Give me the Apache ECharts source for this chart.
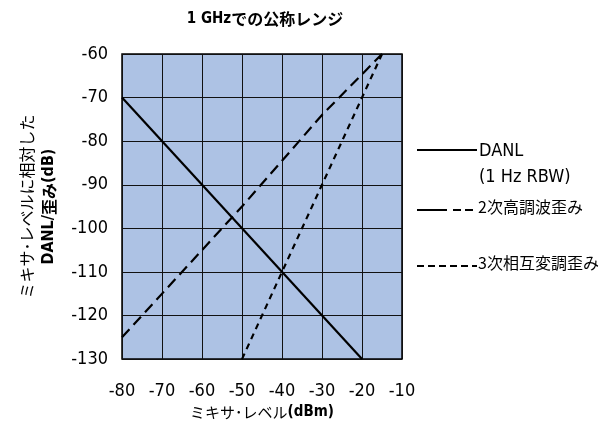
<!DOCTYPE html>
<html>
<head>
<meta charset="utf-8">
<script src="https://cdn.jsdelivr.net/npm/echarts@6/dist/echarts.min.js"></script>
<style>
html, body { margin: 0; padding: 0; background: #fff; }
#main { width: 607px; height: 425px; }
</style>
</head>
<body>
<div id="main"></div>
<script>
"use strict";
// ミキサ・レベル (dBm) と各特性 (dB)
var danl = [[-80, -70], [-20, -130]];
var harm2 = [[-80, -125], [-50, -95], [-30, -74], [-15, -60]];
var toi3 = [[-50, -130], [-40, -110], [-30, -90], [-15, -60]];
var seriesNames = ['DANL', '2次高調波歪み', '3次相互変調歪み'];

var numFont = '"Liberation Sans Narrow", "DejaVu Sans Condensed", sans-serif';
var jpFont = '"Noto Sans CJK JP", sans-serif';

var myChart = echarts.init(document.getElementById('main'));

var option = {
    backgroundColor: '#ffffff',
    animation: false,
    title: {
        text: '{b|1 GHz}{j|での公称レンジ}',
        left: 260,
        top: 6,
        textAlign: 'center',
        textStyle: {
            rich: {
                b: {fontFamily: numFont, fontWeight: 'bold', fontSize: 15, color: '#000'},
                j: {fontFamily: jpFont, fontWeight: 'bold', fontSize: 16, color: '#000'}
            }
        }
    },
    grid: {
        left: 122, right: 205, top: 54, bottom: 62,
        show: true,
        backgroundColor: '#adc2e4',
        borderColor: '#000',
        borderWidth: 1.5
    },
    xAxis: {
        type: 'value',
        min: -80, max: -10, interval: 10,
        axisLine: {show: false},
        axisTick: {show: false},
        splitLine: {lineStyle: {color: '#111', width: 1}},
        axisLabel: {fontFamily: numFont, fontSize: 18, color: '#000', margin: 23},
        name: '{a|ミキサ･レベル}{b|(dBm)}',
        nameLocation: 'middle',
        nameGap: 39,
        nameTextStyle: {
            rich: {
                a: {fontFamily: jpFont, fontSize: 15, color: '#000'},
                b: {fontFamily: numFont, fontWeight: 'bold', fontSize: 15, color: '#000'}
            }
        }
    },
    yAxis: {
        type: 'value',
        min: -130, max: -60, interval: 10,
        axisLine: {show: false},
        axisTick: {show: false},
        splitLine: {lineStyle: {color: '#111', width: 1}},
        axisLabel: {fontFamily: numFont, fontSize: 18, color: '#000', margin: 14},
        name: '{a|ミキサ･レベルに相対した}\n{b|DANL/}{c|歪み}{b|(dB)}',
        nameLocation: 'middle',
        nameRotate: 90,
        nameGap: 62,
        nameTextStyle: {
            lineHeight: 22,
            rich: {
                a: {fontFamily: jpFont, fontSize: 16, color: '#000', lineHeight: 22},
                b: {fontFamily: numFont, fontWeight: 'bold', fontSize: 16, color: '#000', lineHeight: 22},
                c: {fontFamily: jpFont, fontWeight: 'bold', fontSize: 16, color: '#000', lineHeight: 22}
            }
        }
    },
    series: [
        {
            name: seriesNames[0], type: 'line', data: danl, symbol: 'none',
            lineStyle: {color: '#000', width: 2.2, type: 'solid'}
        },
        {
            name: seriesNames[1], type: 'line', data: harm2, symbol: 'none',
            lineStyle: {color: '#000', width: 2.2, type: [11, 6]}
        },
        {
            name: seriesNames[2], type: 'line', data: toi3, symbol: 'none',
            lineStyle: {color: '#000', width: 2.2, type: [6, 5]}
        }
    ],
    graphic: [
        {type: 'line', shape: {x1: 417, y1: 150, x2: 477, y2: 150}, style: {stroke: '#000', lineWidth: 2}},
        {type: 'text', left: 479, top: 138, style: {text: 'DANL\n(1 Hz RBW)', font: '18px ' + numFont, fill: '#000', lineHeight: 26}},
        {type: 'line', shape: {x1: 417, y1: 210, x2: 475, y2: 210}, style: {stroke: '#000', lineWidth: 2, lineDash: [30, 6, 8, 4, 8, 10]}},
        {type: 'text', left: 478, top: 199, style: {text: '2次高調波歪み', font: '16px ' + jpFont, fill: '#000'}},
        {type: 'line', shape: {x1: 417, y1: 266, x2: 477, y2: 266}, style: {stroke: '#000', lineWidth: 2, lineDash: [7, 4]}},
        {type: 'text', left: 478, top: 255, style: {text: '3次相互変調歪み', font: '16px ' + jpFont, fill: '#000'}}
    ]
};

myChart.setOption(option);
</script>
</body>
</html>
